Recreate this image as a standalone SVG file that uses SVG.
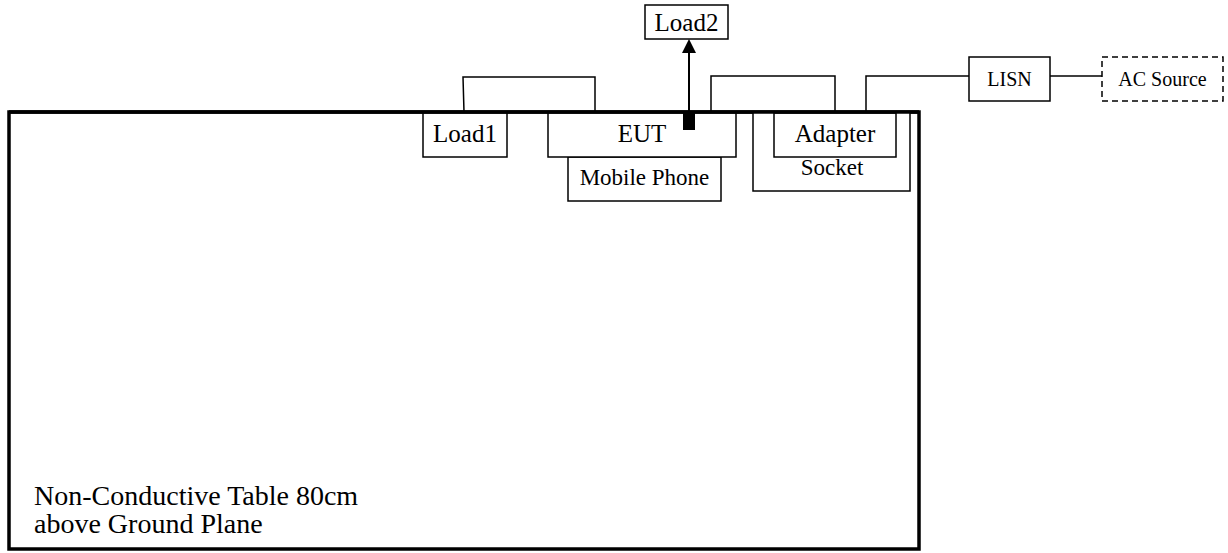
<svg xmlns="http://www.w3.org/2000/svg" width="1228" height="553" viewBox="0 0 1228 553">
<style>
.box{fill:#fff;stroke:#000;stroke-width:1.5}
.wire{fill:none;stroke:#000;stroke-width:1.5}
text{font-family:'Liberation Serif','Times New Roman',serif;fill:#000;text-anchor:middle}
.big{font-size:25px}
.mid{font-size:23px}
.sm{font-size:20px}
.tbl{font-size:28px;text-anchor:start}
</style>
<g id="table">
<rect x="9" y="112" width="910" height="437" fill="#fff" stroke="#000" stroke-width="3.5"/>
<text class="tbl" x="34" y="505">Non-Conductive Table 80cm</text>
<text class="tbl" x="34" y="533">above Ground Plane</text>
</g>
<g id="connectors">
<path class="wire" d="M464,112 L463,77 L595,77 L595,112"/>
<path class="wire" d="M711,112 V76 H835 V112"/>
<path class="wire" d="M866,112 V76 H969"/>
<path class="wire" d="M1050,76 H1102"/>
<line x1="689" y1="112" x2="689" y2="53" stroke="#000" stroke-width="2"/>
<path d="M682,53 L689,39 L696,53 Z" fill="#000"/>
</g>
<g id="load1">
<rect class="box" x="423" y="113" width="84" height="44"/>
<text class="big" x="465" y="142">Load1</text>
</g>
<g id="mobile-phone">
<rect class="box" x="568" y="157" width="153" height="44"/>
<text class="mid" x="644.5" y="185">Mobile Phone</text>
</g>
<g id="eut">
<rect class="box" x="548" y="113" width="188" height="44"/>
<text class="big" x="642" y="142">EUT</text>
<rect x="683" y="112" width="12" height="18" fill="#000"/>
</g>
<g id="load2">
<rect class="box" x="645" y="5" width="83" height="34"/>
<text class="big" x="686.5" y="31">Load2</text>
</g>
<g id="socket">
<rect class="box" x="753" y="112" width="157" height="79"/>
<text class="mid" x="832" y="175">Socket</text>
</g>
<g id="adapter">
<rect class="box" x="774" y="113" width="122" height="44"/>
<text class="big" x="835" y="142">Adapter</text>
</g>
<g id="lisn">
<rect class="box" x="969" y="57" width="81" height="44"/>
<text class="sm" x="1009.5" y="86">LISN</text>
</g>
<g id="ac-source">
<rect x="1102" y="57" width="121" height="44" fill="#fff" stroke="#000" stroke-width="1.5" stroke-dasharray="6,4"/>
<text class="sm" x="1162.5" y="86">AC Source</text>
</g>
<line x1="9" y1="112" x2="919" y2="112" stroke="#000" stroke-width="3.5"/>
</svg>
